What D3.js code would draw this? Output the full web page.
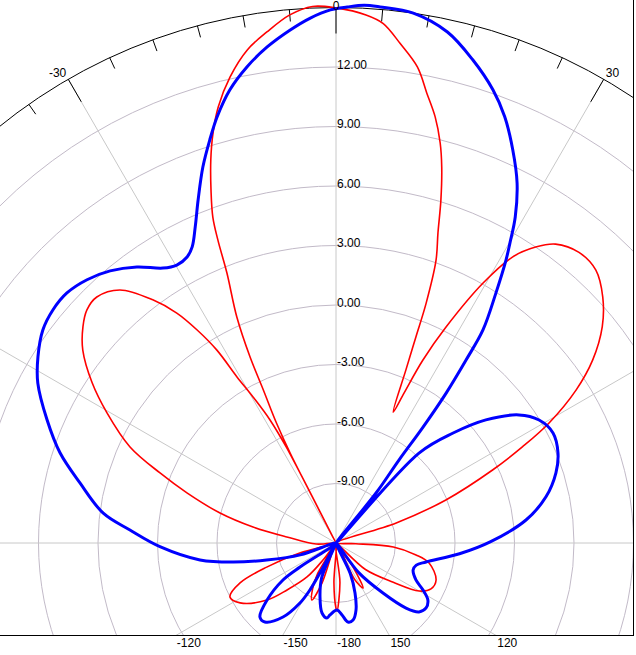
<!DOCTYPE html>
<html>
<head>
<meta charset="utf-8">
<script src="https://cdnjs.cloudflare.com/ajax/libs/d3/7.8.5/d3.min.js"></script>
<style>
  body { margin: 0; background: #fff; }
  svg { display: block; }
  text { font-family: "Liberation Sans", Arial, sans-serif; font-size: 12px; fill: #000; }
</style>
</head>
<body>
<div id="chart"></div>
<script>
////  Data: angle in degrees (0 = up, clockwise), gain in dB. -12 = null (plot centre)
var redAngles = [-180, -177, -170, -160.7, -157, -153, -149, -146, -142.6, -139.5, -133.8, -129.6, -122, -117, -112.6, -109.2, -105.5, -100,
  -93, -83, -79.1, -75.5, -71.4, -68.3, -65, -60.4, -56.7, -52.7, -49.5, -46.9, -44.2, -40.5, -37, -34.7, -33.1, -31.7, -30.8, -29.6, -28.2, -27.4,
  -27.2, -27.0, -26.4, -25.4, -24.8, -23.7, -22.0, -21.3, -20.7, -19.5, -18.1, -16.7, -15.1, -12.8, -10.2, -7.7, -5.0, -2.5, 0, 3.25, 5.2, 7.3,
  9.7, 11.4, 13.1, 14.6, 15.7, 17.0, 18.2, 19.5, 20.6, 21.2, 22.0, 23.6, 24.4, 25.4, 27.0, 29.5, 31.7, 34.0, 36.3, 39.9, 43.6, 47.3, 50.9, 54.5,
  57.5, 60.6, 62.7, 65.0, 68.6, 71.6, 75, 92, 94, 98.5, 102.1, 110.3, 115.8, 120, 124.4, 132, 137, 144.7, 149, 152.8, 160, 174.3, 179.2];
var redDb = [-8.7, -10.0, -12, -9.86, -8.88, -9.4, -10.2, -12, -10.9, -9.75, -8.58, -7.49, -6.3, -6.0, -6.76, -8.3, -10.1, -12,
  -11, -9.5, -7.74, -5.96, -4.07, -2.45, -0.54, 1.28, 2.71, 4.05, 4.78, 5.2, 5.3, 4.78, 3.35, 2.1, 0.82, -0.57, -2.25, -3.53, -4.96, -6.56,
  -12, -6.92, -5.26, -3.46, -1.66, 0.44, 2.68, 4.39, 5.57, 6.88, 8.32, 9.58, 10.78, 12.1, 13.26, 14.0, 14.73, 15.08, 14.98, 14.67, 14.3, 13.4,
  12.35, 11.15, 10.06, 8.84, 7.7, 6.09, 4.46, 3.1, 0.92, -0.86, -2.6, -4.8, -3.7, -1.8, 0.22, 3.06, 4.96, 6.0, 6.7, 7.1, 7.0, 6.3, 5.3, 3.9,
  2.35, 0.33, -1.41, -3.29, -6.05, -8.8, -12, -11, -9.1, -7.92, -7.2, -6.62, -6.68, -7.16, -8.5, -10, -12, -10.5, -9.35, -9.9, -12, -10, -8.57];

var blueAngles = [-175.2, -173.2, -168.7, -163.5, -157.6, -154.5, -151.9, -151, -149, -144.4, -138, -134.2, -129.6, -124.9, -123.7, -117,
  -108.4, -103.8, -100.5, -97.1, -91.2, -86.4, -82.7, -76.8, -71.9, -66.9, -61.8, -58, -54, -50.5, -47.1, -43.4, -39.7, -35.8, -32.2, -29.8,
  -27.5, -25.9, -24, -21.9, -19.5, -17.4, -15.6, -13.2, -10.6, -7.9, -5.1, -2.8, -0.6, 1.2, 3.0, 4.7, 8.3, 12.3, 15.8, 19.1, 21.6, 24.2, 26.7,
  28.8, 30.1, 31.0, 32.6, 34.6, 35.4, 36.3, 36.9, 37.2, 38.7, 40, 42.7, 46.8, 50.6, 55, 58.8, 63.1, 67.9, 72.3, 77.6, 83.1, 89.5, 95, 101.9,
  105.4, 109.3, 114.8, 118.4, 121.8, 125.8, 129.7, 132.9, 136.8, 142.5, 148, 155, 159.2, 163.4, 167.5, 171.4, 175.2, 179.1];
var blueDb = [-8.36, -8.19, -8.4, -9.16, -10.1, -12, -10.3, -9.3, -8.47, -7.41, -6.64, -6.65, -7.49, -8.74, -9.82, -12,
  -10.1, -8.4, -6.72, -5.09, -3.12, -1.59, -0.17, 1.26, 2.64, 3.84, 5.06, 5.72, 6.27, 6.49, 6.52, 6.27, 5.83, 5.16, 4.38, 4.15,
  4.26, 4.6, 5.45, 6.64, 8.11, 9.29, 10.3, 11.46, 12.42, 13.25, 13.97, 14.5, 14.88, 15.03, 15.15, 15.12, 15.0, 14.37, 13.32, 12.18, 11.11, 9.74, 8.32,
  6.76, 5.49, 4.64, 2.97, 1.05, -0.68, -2.62, -4.69, -6.75, -8.77, -12, -5.83, -3.9, -2.22, -0.74, -0.03, 0.27, 0.08, -0.36, -1.16, -2.35, -4.2, -5.75, -7.36,
  -7.8, -7.88, -7.56, -7.01, -6.55, -6.4, -6.56, -7.18, -8.54, -10.1, -12, -10.3, -9.3, -8.47, -8.02, -7.97, -8.36, -8.62];

var ringValues = [-9, -6, -3, 0, 3, 6, 9, 12];
var ringLabels = ["-9.00", "-6.00", "-3.00", "0.00", "3.00", "6.00", "9.00", "12.00"];
var spokeAngles = [-150, -120, -90, -60, -30, 0, 30, 60, 90, 120, 150, 180];
var spokeLabels = ["-150", "-120", "-90", "-60", "-30", "0", "30", "60", "90", "120", "150", "-180"];

////////////////////////////////////////////////////////////////
////  Layout
var width = 636, height = 655;
var cx = 336, cy = 543;
var frameRight = 633.5, frameBottom = 635.5;

var r = d3.scaleLinear().domain([-12, 15]).range([0, 535.5]);
var R = r(15);
function rad(a) { return a * Math.PI / 180; }

var svg = d3.select("#chart")
  .append("svg")
    .attr("width", width)
    .attr("height", height);

svg.append("defs").append("clipPath")
    .attr("id", "plotClip")
  .append("rect")
    .attr("x", -10).attr("y", -10)
    .attr("width", frameRight + 10).attr("height", frameBottom + 10);

var plot = svg.append("g").attr("clip-path", "url(#plotClip)");
var g = plot.append("g").attr("transform", "translate(" + cx + "," + cy + ")");

// rings
g.selectAll(".ring")
  .data(ringValues)
  .enter()
  .append("circle")
    .attr("r", function(d) { return r(d); })
    .attr("fill", "none")
    .attr("stroke", "#c2bac8")
    .attr("stroke-width", 1);

// spokes
g.selectAll(".spoke")
  .data(spokeAngles)
  .enter()
  .append("line")
    .attr("x1", 0).attr("y1", 0)
    .attr("x2", function(d) { return R * Math.sin(rad(d)); })
    .attr("y2", function(d) { return -R * Math.cos(rad(d)); })
    .attr("stroke", "#c8c8c8")
    .attr("stroke-width", 1);

// outer circle
g.append("circle")
  .attr("r", R)
  .attr("fill", "none")
  .attr("stroke", "#000")
  .attr("stroke-width", 1);

// ticks every 5 deg, long every 30
g.selectAll(".tick")
  .data(d3.range(0, 360, 5))
  .enter()
  .append("line")
    .attr("x1", function(d) { return R * Math.sin(rad(d)); })
    .attr("y1", function(d) { return -R * Math.cos(rad(d)); })
    .attr("x2", function(d) { var L = d % 30 == 0 ? 26 : 12; return (R - L) * Math.sin(rad(d)); })
    .attr("y2", function(d) { var L = d % 30 == 0 ? 26 : 12; return -(R - L) * Math.cos(rad(d)); })
    .attr("stroke", "#000")
    .attr("stroke-width", 1);

// ring labels
g.selectAll(".ringLabel")
  .data(ringValues)
  .enter()
  .append("text")
    .attr("x", 1)
    .attr("y", function(d) { return -r(d) + 1.5; })
    .text(function(d, i) { return ringLabels[i]; });

// pattern curves
var line = d3.lineRadial()
  .angle(function(d) { return rad(d[0]); })
  .radius(function(d) { return r(Math.max(d[1], -12)); })
  .curve(d3.curveCatmullRomClosed.alpha(0.5));

g.append("path")
  .datum(d3.zip(redAngles, redDb))
  .attr("fill", "none")
  .attr("stroke", "#ff0000")
  .attr("stroke-width", 1.6)
  .attr("stroke-linejoin", "round")
  .attr("d", line);

g.append("path")
  .datum(d3.zip(blueAngles, blueDb))
  .attr("fill", "none")
  .attr("stroke", "#0000ff")
  .attr("stroke-width", 3)
  .attr("stroke-linejoin", "round")
  .attr("d", line);

// frame (only right and bottom edges fall inside the window)
svg.append("rect")
  .attr("x", -10).attr("y", -10)
  .attr("width", frameRight + 10).attr("height", frameBottom + 10)
  .attr("fill", "none")
  .attr("stroke", "#000")
  .attr("stroke-width", 1);

// angle labels: at the rim if visible, else under the bottom frame edge
spokeAngles.forEach(function(a, i) {
  var s = Math.sin(rad(a)), c = Math.cos(rad(a));
  var px = cx + R * s, py = cy - R * c;
  if (px >= 0 && px <= frameRight && py >= 0 && py <= frameBottom) {
    var anchor = s < -0.01 ? "end" : (s > 0.01 ? "start" : "middle");
    svg.append("text")
      .attr("x", px + (s < -0.01 ? -2 : (s > 0.01 ? 2 : 0)))
      .attr("y", Math.max(py - 2.5, 9.5))
      .attr("text-anchor", anchor)
      .text(spokeLabels[i]);
  } else if (c < -0.01) {
    var t = (cy - frameBottom) / c;
    var bx = cx + t * s;
    if (bx >= 0 && bx <= frameRight) {
      svg.append("text")
        .attr("x", bx + 1)
        .attr("y", 647)
        .text(spokeLabels[i]);
    }
  }
});
</script>
</body>
</html>
